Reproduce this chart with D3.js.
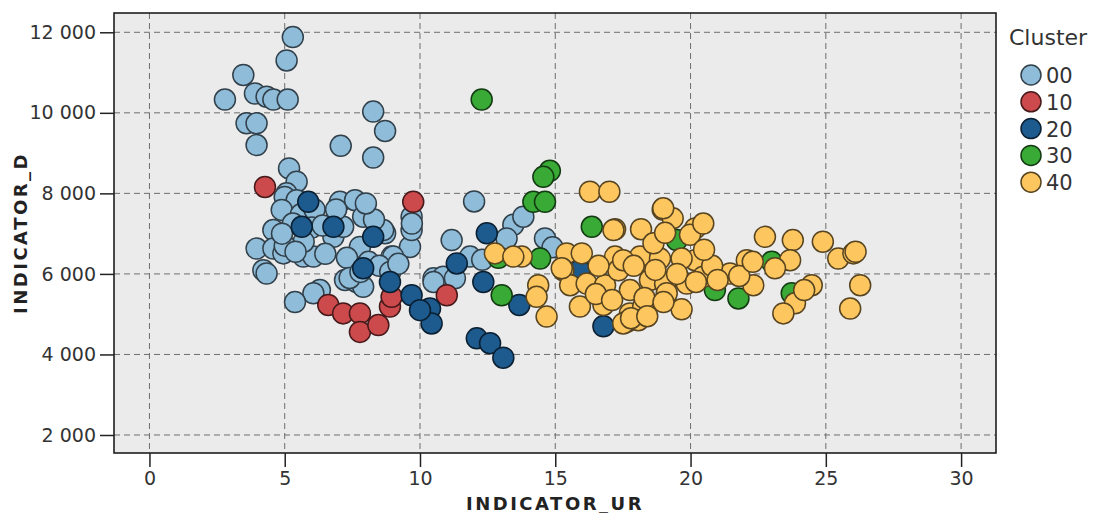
<!DOCTYPE html>
<html>
<head>
<meta charset="utf-8">
<title>Cluster scatter</title>
<style>
  body { margin:0; background:#fff; }
  .tick text { font-family:"DejaVu Sans", Verdana, sans-serif; font-size:19px; fill:#333; }
  .tick line { stroke:#222; stroke-width:1.5; }
  .grid line { stroke:#6e6e6e; stroke-width:1; stroke-dasharray:6 4; }
  .axisTitle { font-family:"DejaVu Sans", Verdana, sans-serif; font-weight:bold; font-size:18px; letter-spacing:2.5px; fill:#222; }
  .legend text { font-family:"DejaVu Sans", Verdana, sans-serif; fill:#333; }
</style>
<script src="https://cdnjs.cloudflare.com/ajax/libs/d3/7.8.5/d3.min.js"></script>
</head>
<body>
<script>
// ---- data (INDICATOR_UR, INDICATOR_D) per cluster ----
var clusterNames = ["00", "10", "20", "30", "40"];
var clusterColors = ["#8fbcd9", "#cc4a4c", "#1d5a8e", "#38aa35", "#fec65e"];
var xTicks = [0, 5, 10, 15, 20, 25, 30];
var yTicks = [2000, 4000, 6000, 8000, 10000, 12000];

var c00 = [[5.3,11880],[5.07,11300],[3.47,10940],[2.79,10330],[3.9,10480],[4.33,10400],[4.58,10330],[5.11,10330],
  [3.59,9740],[3.96,9740],[3.96,9200],[8.27,10030],[8.71,9550],[7.07,9180],[8.27,8890],
  [5.16,8620],[5.44,8290],[5.07,8000],[12.0,7800],
  [5.0,7910],[5.44,7830],[4.89,7590],[5.6,7480],[6.1,7600],[7.04,7790],[7.6,7830],[7.9,7420],
  [4.58,7090],[3.96,6630],[4.58,6630],[4.21,6090],[4.33,6010],[4.95,6510],[5.69,6430],[6.06,6430],
  [6.0,7150],[6.8,6920],[7.16,7170],[7.78,6670],[8.71,7010],[8.95,6430],[9.63,6670],[9.69,7090],[9.69,7420],
  [11.17,6840],[11.85,6430],[10.5,5890],[10.86,5930],[11.29,5890],[7.23,5850],[7.66,5800],[7.9,5680],
  [6.3,5600],[6.06,5520],[5.38,5300],
  [13.45,7220],[13.82,7420],[13.2,6880],[14.62,6880],[14.9,6660],[8.64,7090],[9.01,6430],
  [5.3,7250],[5.7,6800],[6.4,7200],[6.5,6500],[7.3,6400],[8.1,6300],[8.5,6200],[5.0,6700],[5.4,6550],
  [4.9,7000],[6.9,7600],[8.3,7350],[8.0,7750],[7.4,5900],[7.8,6050],[8.9,6050],[9.2,6250],[9.7,7250],
  [12.3,6350],[10.5,5800]];
var c10 = [[4.27,8160],[9.75,7790],[6.61,5230],[7.16,5020],[7.78,5020],[7.78,4560],[8.46,4730],
  [8.89,5190],[8.95,5430],[10.99,5470]];
var c20 = [[5.87,7790],[5.63,7170],[6.8,7170],[8.27,6920],[7.9,6140],[8.89,5800],[9.69,5470],[10.37,5140],
  [10.43,4770],[10.0,5100],[11.36,6260],[12.47,7010],[12.34,5800],[12.1,4400],[12.59,4280],[13.08,3920],
  [13.67,5230],[15.9,6090],[16.78,4700]];
var c30 = [[12.28,10330],[14.8,8560],[14.56,8410],[14.19,7790],[14.62,7790],[16.35,7170],[13.02,5470],
  [14.44,6380],[12.9,6400],[20.9,5600],[21.77,5390],[19.49,6840],[23.74,5520],[23.0,6300]];
var c40 = [[16.28,8040],[17.0,8040],[18.97,7600],[19.34,7380],[17.21,7110],[18.17,7110],[20.17,7130],[19.98,6970],
  [15.42,6510],[15.98,6510],[17.21,6430],[18.13,6430],[18.87,6380],[20.17,6340],[18.63,6760],[19.67,6380],
  [15.3,6090],[15.55,5720],[16.16,5760],[16.84,5720],[17.33,6090],[17.76,5600],[18.5,5850],[19.06,5760],
  [19.12,5520],[19.86,5760],[20.47,5930],
  [15.91,5190],[16.78,5230],[17.76,5020],[17.64,4810],[18.25,5190],[18.07,4850],[19.67,5120],
  [21.46,6010],[22.08,6340],[22.32,5720],[22.75,6920],[23.78,6840],[23.68,6340],[23.12,6140],[24.48,5720],
  [23.86,5270],[23.43,5020],[24.89,6800],[25.46,6380],[26.02,6510],[26.27,5720],[25.9,5140],
  [12.77,6510],[13.76,6430],[13.45,6430],[14.37,5720],[14.31,5430],[14.68,4940],[15.24,6140],[17.15,7090],
  [17.51,6340],[18.99,7630],[17.51,4770],
  [16.6,6200],[17.9,6200],[18.7,6100],[19.5,6000],[20.2,5800],[20.8,6200],[21.0,5850],[18.3,5400],
  [16.5,5500],[17.1,5350],[19.0,5300],[20.5,6600],[21.8,5950],[22.3,6300],[24.2,5600],[26.1,6550],
  [17.8,4900],[18.4,4950],[19.06,7020],[20.47,7250]];
var clusterPoints = [c00, c10, c20, c30, c40];

// ---- layout ----
var width = 1093, height = 513;
var plot = {left:114, top:13, right:996, bottom:453};

var svg = d3.select("body").append("svg").attr("width", width).attr("height", height);

var xScale = d3.scaleLinear().domain([-1.31, 31.29]).range([plot.left, plot.right]);
var yScale = d3.scaleLinear().domain([1553, 12479]).range([plot.bottom, plot.top]);

// plot background
svg.append("rect")
  .attr("x", plot.left).attr("y", plot.top)
  .attr("width", plot.right - plot.left).attr("height", plot.bottom - plot.top)
  .attr("fill", "#ebebeb");

// grid
var grid = svg.append("g").attr("class", "grid");
grid.selectAll("line.v").data(xTicks).enter().append("line")
  .attr("x1", function(d){ return xScale(d); }).attr("x2", function(d){ return xScale(d); })
  .attr("y1", plot.top).attr("y2", plot.bottom);
grid.selectAll("line.h").data(yTicks).enter().append("line")
  .attr("y1", function(d){ return yScale(d); }).attr("y2", function(d){ return yScale(d); })
  .attr("x1", plot.left).attr("x2", plot.right);

// points
var pts = [];
clusterPoints.forEach(function(arr, ci){
  arr.forEach(function(p){ pts.push({x:p[0], y:p[1], c:ci}); });
});
svg.append("g").selectAll("circle").data(pts).enter().append("circle")
  .attr("cx", function(d){ return xScale(d.x); })
  .attr("cy", function(d){ return yScale(d.y); })
  .attr("r", 10.5)
  .attr("fill", function(d){ return clusterColors[d.c]; })
  .attr("stroke", function(d){ return d3.color(clusterColors[d.c]).darker(3); })
  .attr("stroke-width", 1.5);

// frame
svg.append("rect")
  .attr("x", plot.left).attr("y", plot.top)
  .attr("width", plot.right - plot.left).attr("height", plot.bottom - plot.top)
  .attr("fill", "none").attr("stroke", "#111").attr("stroke-width", 1.5);

// axes
var fmt = function(d){ return d3.format(",")(d).replace(/,/g, " "); };
var xAxis = d3.axisBottom(xScale).tickValues(xTicks).tickSize(14).tickPadding(5);
var yAxis = d3.axisLeft(yScale).tickValues(yTicks).tickSize(14).tickPadding(4).tickFormat(fmt);

svg.append("g").attr("transform", "translate(0," + plot.bottom + ")").call(xAxis)
  .call(function(g){ g.select(".domain").remove(); });
svg.append("g").attr("transform", "translate(" + plot.left + ",0)").call(yAxis)
  .call(function(g){ g.select(".domain").remove(); });
svg.selectAll(".tick text").attr("font-family", null).attr("font-size", null);

// axis titles (x title's underscore falls just below the picture edge, as in the original)
svg.append("text").attr("class", "axisTitle")
  .attr("x", (plot.left + plot.right) / 2).attr("y", 510)
  .attr("text-anchor", "middle").text("INDICATOR_UR");
svg.append("text").attr("class", "axisTitle")
  .attr("transform", "translate(27," + ((plot.top + plot.bottom) / 2) + ") rotate(-90)")
  .attr("text-anchor", "middle").text("INDICATOR_D");

// legend
var legend = svg.append("g").attr("class", "legend");
legend.append("text").attr("x", 1009).attr("y", 45).style("font-size", "22px").text("Cluster");
var items = legend.selectAll("g.item").data(clusterNames).enter().append("g")
  .attr("transform", function(d, i){ return "translate(1031," + (75 + i * 26.8) + ")"; });
items.append("circle").attr("r", 10)
  .attr("fill", function(d, i){ return clusterColors[i]; })
  .attr("stroke", function(d, i){ return d3.color(clusterColors[i]).darker(3); })
  .attr("stroke-width", 1.5);
items.append("text").attr("x", 15).attr("y", 8).style("font-size", "21px").text(function(d){ return d; });
</script>
</body>
</html>
